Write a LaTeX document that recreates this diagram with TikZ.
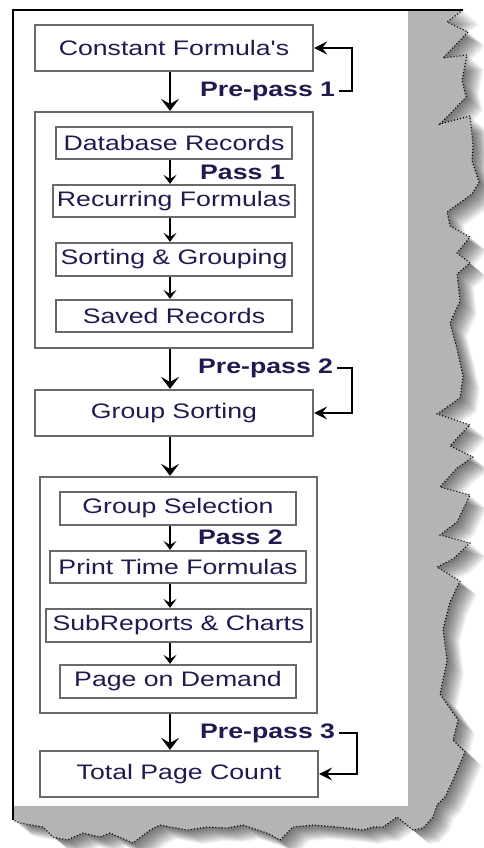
\documentclass[tikz,border=0pt]{standalone}
\usepackage{fontspec}
\newfontfamily\bxf[FakeStretch=1.27]{Liberation Sans}
\usetikzlibrary{arrows.meta}
\definecolor{txt}{RGB}{32,26,80}
\definecolor{bord}{RGB}{105,105,105}
\definecolor{paper}{RGB}{180,180,180}
\newcommand{\tornedge}{(463,10) -- (447,22) -- (468,32) -- (443,58) -- (467,55) -- (462,80) -- (466,97) -- (447,117) -- (440,124) -- (470,116) -- (473,145) -- (472,161) -- (479,182) -- (472,194) -- (447,212) -- (450,226) -- (470,237) -- (457,253) -- (470,263) -- (457,274) -- (460,301) -- (450,323) -- (457,349) -- (463,376) -- (460,398) -- (437,414) -- (470,425) -- (460,435) -- (450,446) -- (473,457) -- (457,468) -- (440,487) -- (470,495) -- (457,522) -- (440,535) -- (470,543) -- (453,559) -- (437,567) -- (460,581) -- (450,602) -- (443,629) -- (447,661) -- (440,694) -- (458,720) -- (453,740) -- (465,752) -- (458,768) -- (453,780) -- (445,797) -- (437,805) -- (433,817) -- (423,828) -- (413,830) -- (397,817) -- (383,827) -- (373,827) -- (363,830) -- (347,828) -- (337,827) -- (313,825) -- (293,827) -- (280,840) -- (267,833) -- (243,825) -- (227,828) -- (207,827) -- (187,830) -- (160,825) -- (150,830) -- (133,843) -- (110,833) -- (100,837) -- (83,833) -- (67,840) -- (53,837) -- (43,827) -- (20,823) -- (13,820)}
\begin{document}
\begin{tikzpicture}[x=1pt,y=-1pt,
  box/.style={draw=bord, line width=2.2pt, fill=white, inner sep=0pt, text=txt,
    font=\bxf\fontsize{21}{25}\selectfont},
  frame/.style={draw=bord, line width=2.2pt, fill=white, inner sep=0pt},
  lab/.style={font=\bxf\bfseries\fontsize{21}{25}\selectfont, text=txt, inner sep=0pt, anchor=west},
  arr/.style={-{Stealth[length=12pt,width=18pt,inset=5pt]}, line width=1.4pt},
  sarr/.style={-{Stealth[length=9pt,width=13pt,inset=4pt]}, line width=1.3pt},
  fb/.style={-{Stealth[length=13pt,width=13pt,inset=5pt]}, line width=1.3pt},
]
\useasboundingbox (0,0) rectangle (483,848);
\fill[white] (0,0) rectangle (483,848);
% shadow
\foreach \k in {1,...,14}{
  \fill[black, opacity=0.05, shift={(\k*1.2,\k*1.0)}] (13,10) -- \tornedge -- cycle;
}
% paper
\fill[paper] (13,10) -- \tornedge -- cycle;
\draw[dotted, line width=1.1pt] \tornedge;
\fill[white] (13,10) rectangle (408,806);
\draw[line width=1.5pt] (13,820) -- (13,10) -- (463,10);

\coordinate (ax) at (170,0);
\coordinate (bx1) at (352,0);
\coordinate (bx2) at (352,0);
\coordinate (bx3) at (357,0);

% top
\node[box, minimum width=278pt, minimum height=46pt] (cf) at (174,48) {Constant Formula's};
\node[lab] (pp1) at (200,91) {Pre-pass 1};

% pass 1 group
\node[frame, minimum width=278pt, minimum height=236pt] (p1) at (174,230) {};
\node[box, minimum width=236pt, minimum height=32pt] (db) at (174,143) {Database Records};
\node[lab] (ps1) at (200,172) {Pass 1};
\node[box, minimum width=242pt, minimum height=32pt] (rf) at (174,201) {Recurring Formulas};
\node[box, minimum width=236pt, minimum height=33pt] (sg) at (174,259.5) {Sorting \& Grouping};
\node[box, minimum width=236pt, minimum height=32pt] (sr) at (174,316) {Saved Records};

\node[lab] (pp2) at (198,368) {Pre-pass 2};
\node[box, minimum width=278pt, minimum height=46pt] (gs) at (174,413) {Group Sorting};

% pass 2 group
\node[frame, minimum width=277pt, minimum height=236pt] (p2) at (178.5,595) {};
\node[box, minimum width=236pt, minimum height=33pt] (gsel) at (178,508.5) {Group Selection};
\node[lab] (ps2) at (198,537) {Pass 2};
\node[box, minimum width=256pt, minimum height=32pt] (ptf) at (178,567) {Print Time Formulas};
\node[box, minimum width=265pt, minimum height=33pt] (src) at (178.5,625.5) {SubReports \& Charts};
\node[box, minimum width=236pt, minimum height=33pt] (pod) at (178,681.5) {Page on Demand};

\node[lab] (pp3) at (200,733) {Pre-pass 3};
\node[box, minimum width=278pt, minimum height=46pt] (tpc) at (179,774) {Total Page Count};

% main arrows
\draw[arr] (cf.south -| ax) -- (p1.north -| ax);
\draw[arr] (p1.south -| ax) -- (gs.north -| ax);
\draw[arr] (gs.south -| ax) -- (p2.north -| ax);
\draw[arr] (p2.south -| ax) -- (tpc.north -| ax);

% inner arrows
\draw[sarr] (db.south -| ax) -- (rf.north -| ax);
\draw[sarr] (rf.south -| ax) -- (sg.north -| ax);
\draw[sarr] (sg.south -| ax) -- (sr.north -| ax);
\draw[sarr] (gsel.south -| ax) -- (ptf.north -| ax);
\draw[sarr] (ptf.south -| ax) -- (src.north -| ax);
\draw[sarr] (src.south -| ax) -- (pod.north -| ax);

% feedback brackets
\draw[fb] ([xshift=4pt]pp1.east) -- (pp1.east -| bx1) |- (cf.east);
\draw[fb] ([xshift=4pt]pp2.east) -- (pp2.east -| bx2) |- (gs.east);
\draw[fb] ([xshift=4pt]pp3.east) -- (pp3.east -| bx3) |- (tpc.east);
\end{tikzpicture}
\end{document}
